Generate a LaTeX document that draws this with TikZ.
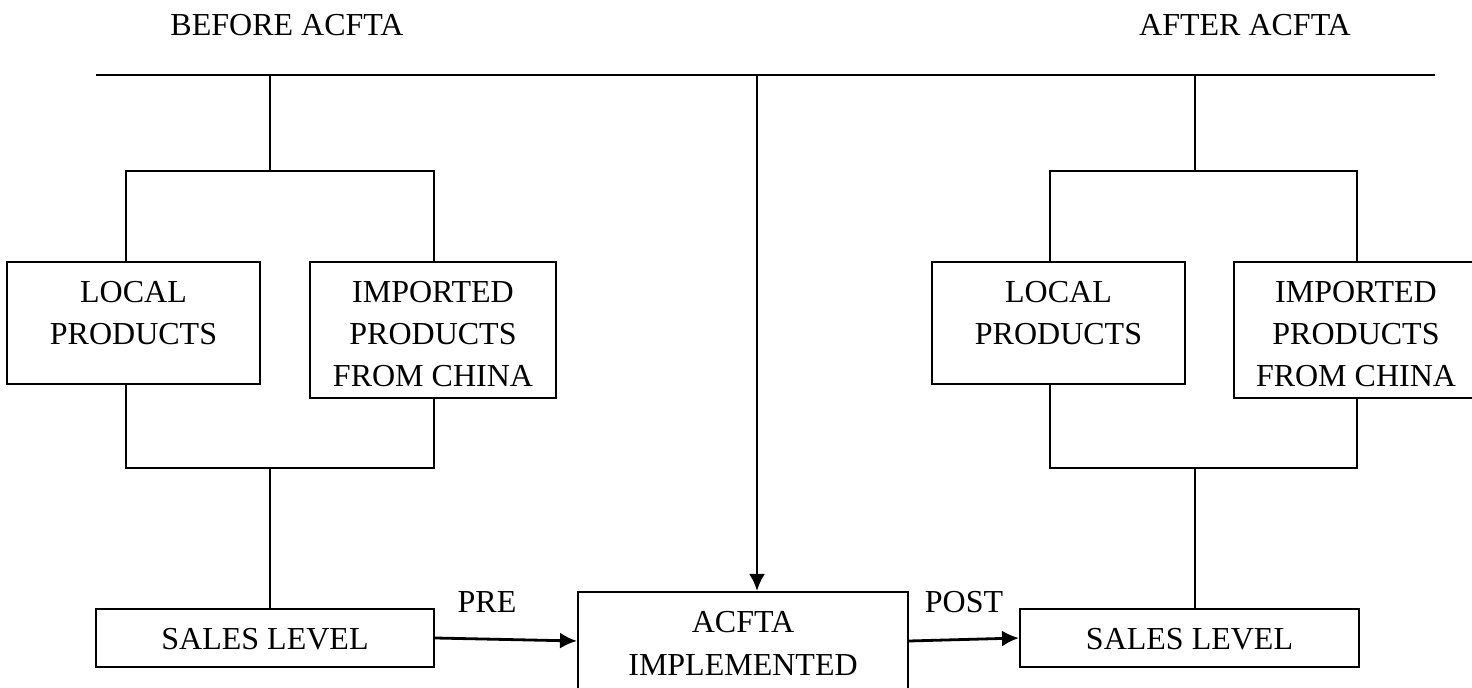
\documentclass[tikz,border=0pt]{standalone}
\usepackage{fontspec}
\setmainfont{Liberation Serif}
\usetikzlibrary{arrows.meta,positioning}
\newcommand{\boxlines}[3]{\begin{minipage}[t][#2][t]{#1}\centering\rule{0pt}{20.5pt}#3\end{minipage}}

\begin{document}
\begin{tikzpicture}[x=0.5pt, y=-0.5pt,
    font=\fontsize{16}{21}\selectfont,
    line width=1pt,
    prodbox/.style={draw, inner sep=0pt},
    flow/.style={line width=1.4pt, -{Latex[length=8.5pt,width=8pt]}}]
    \useasboundingbox (0,0) rectangle (1472,688);
    % Add the headings
    \node (before) at (287,25) {BEFORE ACFTA};
    \node (after) at (1245,25) {AFTER ACFTA};
    % Add the boxes
    \node[prodbox, anchor=north] (locL) at (133.5,261)
        {\boxlines{126.5pt}{61pt}{LOCAL\\PRODUCTS}};
    \node[prodbox,
          right=24pt of locL.north east,
          anchor=north west] (impL)
        {\boxlines{123pt}{68pt}{IMPORTED\\PRODUCTS\\FROM CHINA}};
    \node[prodbox, anchor=north] (salesL) at (265,608)
        {\boxlines{169pt}{29pt}{SALES LEVEL}};
    \node[prodbox, anchor=north] (acfta) at (743,591)
        {\boxlines{165pt}{49pt}{ACFTA\\IMPLEMENTED}};
    \node[prodbox, anchor=north] (locR) at (1058.5,261)
        {\boxlines{126.5pt}{61pt}{LOCAL\\PRODUCTS}};
    \node[prodbox,
          right=23.5pt of locR.north east,
          anchor=north west] (impR)
        {\boxlines{122pt}{68pt}{IMPORTED\\PRODUCTS\\FROM CHINA}};
    \node[prodbox, anchor=north] (salesR) at (1189.5,608)
        {\boxlines{169.5pt}{29pt}{SALES LEVEL}};
    % Points of the tree lines
    \coordinate (lineL) at (96,75);
    \coordinate (lineR) at (1435,75);
    \coordinate (topL) at (270,75);
    \coordinate (forkL) at (270,171);
    \coordinate (joinL) at (270,468);
    \coordinate (barLa) at (126,171);
    \coordinate (barLb) at (434,171);
    \coordinate (topR) at (1195,75);
    \coordinate (forkR) at (1195,171);
    \coordinate (joinR) at (1195,468);
    \coordinate (barRa) at (1050,171);
    \coordinate (barRb) at (1357,171);
    \coordinate (topC) at (757,75);
    % Connect the boxes
    \draw (lineL) -- (lineR);
    \draw (topL) -- (forkL);
    \draw (barLa |- locL.north) -- (barLa) -- (barLb) -- (barLb |- impL.north);
    \draw (barLa |- locL.south) -- (barLa |- joinL) -- (barLb |- joinL) -- (barLb |- impL.south);
    \draw (joinL) -- (joinL |- salesL.north);
    \draw (topR) -- (forkR);
    \draw (barRa |- locR.north) -- (barRa) -- (barRb) -- (barRb |- impR.north);
    \draw (barRa |- locR.south) -- (barRa |- joinR) -- (barRb |- joinR) -- (barRb |- impR.south);
    \draw (joinR) -- (joinR |- salesR.north);
    \draw[flow] (topC) -- (topC |- acfta.north);
    \draw[flow] (salesL.east) -- (acfta.west);
    \draw[flow] (acfta.east) -- (salesR.west);
    % Arrow labels
    \node (pre) at (487,602) {PRE};
    \node (post) at (964,602) {POST};
\end{tikzpicture}
\end{document}
